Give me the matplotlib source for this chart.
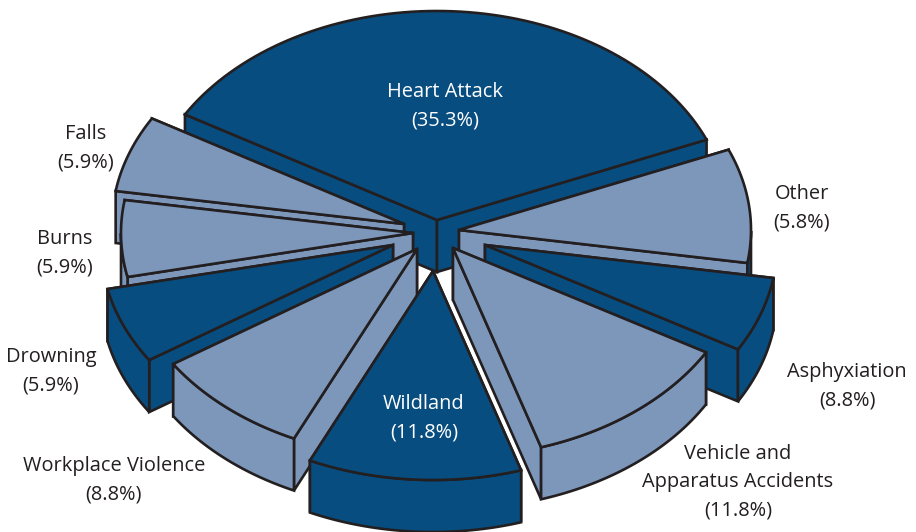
"""
Exploded 3D pie chart of firefighter fatality causes, projected by hand
because matplotlib has no real 3D pie.
"""
import numpy as np
import matplotlib
matplotlib.use('Agg')
import matplotlib.pyplot as plt
from matplotlib.patches import Polygon

# Slices, counter-clockwise from the right end of Heart Attack
slices = ['Heart Attack', 'Falls', 'Burns', 'Drowning', 'Workplace Violence',
          'Wildland', 'Vehicle', 'Asphyxiation', 'Other']
shares = [35.3, 5.9, 5.9, 5.9, 8.8, 11.8, 11.8, 5.8, 8.8]

# Where the tip of each slice ends up after exploding (pixels)
tip_x = [437, 404, 413, 393, 417, 433, 453, 485, 459]
tip_y = [220, 224, 233, 245, 249, 271, 248, 245, 230]

dark = '#084d80'
light = '#7d97ba'
edge = '#231f20'
top_colors = [dark, light, light, dark, light, dark, light, dark, light]
wall_colors = [dark, light, light, dark, light, dark, light, dark, dark]
draw_order = [0, 8, 7, 6, 1, 2, 3, 4, 5]

# Label text
labels = ['Heart Attack\n(35.3%)', 'Falls\n(5.9%)', 'Burns\n(5.9%)', 'Drowning\n(5.9%)',
          'Workplace Violence\n(8.8%)', 'Wildland\n(11.8%)',
          'Vehicle and\nApparatus Accidents\n(11.8%)', 'Asphyxiation\n(8.8%)', 'Other\n(5.8%)']
label_x = [445, 86, 65, 51, 114, 424, 738, 847, 802]
label_y = [106, 148, 253, 371, 480, 418, 482, 386, 208]
label_colors = ['white', edge, edge, edge, edge, 'white', edge, edge, edge]

# Ellipse of the pie and thickness of the slab (pixels)
rx = 292
ry = 209
depth = 52
start = 22.6


def arc(cx, cy, a0, a1):
    t = np.radians(np.linspace(a0, a1, 80))
    return np.column_stack([cx + rx * np.cos(t), cy - ry * np.sin(t)])


plt.rcParams['font.family'] = ['Open Sans', 'DejaVu Sans']
fig = plt.figure(figsize=(9.16, 5.32), dpi=100)
ax = fig.add_axes([0, 0, 1, 1])
ax.set_xlim(0, 916)
ax.set_ylim(532, 0)
ax.axis('off')

spans = np.array(shares) / sum(shares) * 360
ends = start + np.cumsum(spans)
begins = ends - spans
down = np.array([0, depth])
style = dict(edgecolor=edge, linewidth=1.9, joinstyle='miter')

for i in draw_order:
    tip = np.array([tip_x[i], tip_y[i]])
    rim = arc(tip[0], tip[1], begins[i], ends[i])

    # cut faces go first, farthest one before nearest, then the wall and the top
    for p in sorted((rim[0], rim[-1]), key=lambda q: q[1]):
        ax.add_patch(Polygon([tip, p, p + down, tip + down], facecolor=top_colors[i], **style))

    front = np.sin(np.radians(np.linspace(begins[i], ends[i], 80))) < 0
    if front.any():
        wall = rim[front]
        ax.add_patch(Polygon(np.vstack([wall, (wall + down)[::-1]]), facecolor=wall_colors[i], **style))

    ax.add_patch(Polygon(np.vstack([tip, rim]), facecolor=top_colors[i], **style))

for x, y, txt, col in zip(label_x, label_y, labels, label_colors):
    ax.text(x, y, txt, ha='center', va='center', fontsize=14.4, color=col, linespacing=1.55)

fig.savefig('out.png', dpi=100)
